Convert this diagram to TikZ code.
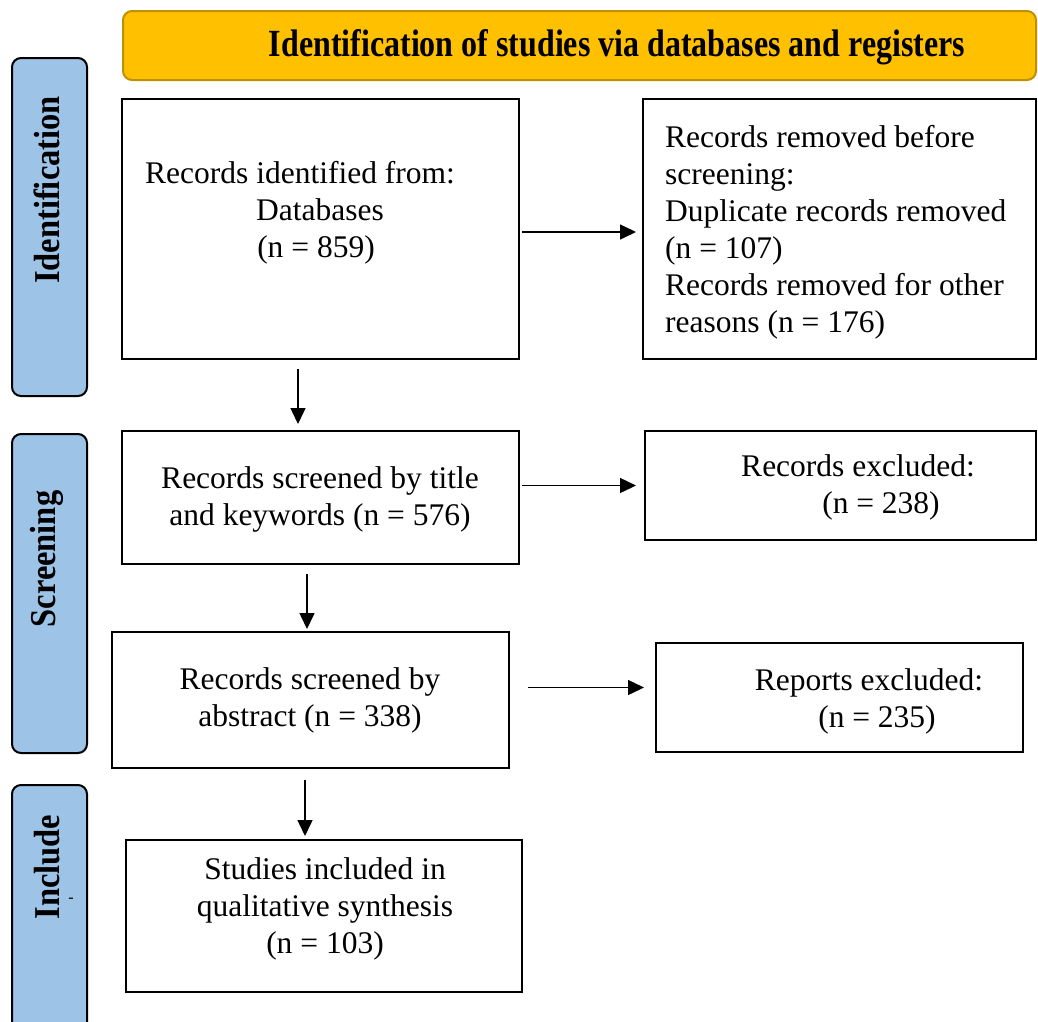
\documentclass[tikz,border=0pt]{standalone}
\usepackage{fontspec}
\setmainfont{Liberation Serif}
\usetikzlibrary{arrows.meta}
\definecolor{hdrfill}{HTML}{FFC000}
\definecolor{hdrline}{HTML}{BF9000}
\definecolor{phasefill}{HTML}{9DC3E6}

\begin{document}
\begin{tikzpicture}[%
        x = 1pt, y = -1pt,
        box/.style = {draw, line width=2pt, inner sep=0pt},
        phase/.style = {draw, line width=2pt, rounded corners=9pt, fill=phasefill},
        phasetxt/.style = {inner sep=0pt, rotate=90, font=\fontsize{32.5}{37}\selectfont\bfseries},
        txt/.style = {inner sep=0pt, font=\fontsize{31.5}{37}\selectfont},
        arr/.style = {line width=1.5pt, -{Triangle[length=16pt,width=15pt]}}
    ]
      \useasboundingbox (0,0) rectangle (1038,1021);
      % header and phase bars
      \draw[line width=2pt, rounded corners=9pt, draw=hdrline, fill=hdrfill] (123,11) rectangle (1036,80);
      \node (hdr) at (617,47) {\fontsize{32}{37}\selectfont\bfseries\scalebox{1}[1.2]{Identification of studies via databases and registers}};
      \draw[phase] (12,58) rectangle (87,396);
      \draw[phase] (12,434) rectangle (87,753);
      \draw[phase] (12,785) rectangle (87,1045);
      \node[phasetxt] (p0) at (47,190) {\scalebox{1}[1.12]{Identification}};
      \node[phasetxt] (p1) at (47,559) {\scalebox{1}[1.12]{Screening}};
      \node[phasetxt] (p2) at (47,867) {\scalebox{1}[1.12]{Include}};
      \node[inner sep=0pt] (p2b) at (71,900) {\fontsize{16}{16}\selectfont -};
      % boxes
      \node[box, minimum width=397pt, minimum height=260pt] (b1) at (320.5,229) {};
      \node[box, minimum width=393pt, minimum height=260pt] (b2) at (839.5,229) {};
      \node[box, minimum width=397pt, minimum height=133pt] (b3) at (320.5,497.5) {};
      \node[box, minimum width=391pt, minimum height=109pt] (b4) at (840.5,485.5) {};
      \node[box, minimum width=397pt, minimum height=136pt] (b5) at (310.5,700) {};
      \node[box, minimum width=367pt, minimum height=109pt] (b6) at (839.5,697.5) {};
      \node[box, minimum width=396pt, minimum height=152pt] (b7) at (324,916) {};
      % texts
      \node[txt, align=center] (t1) at (300,213) {Records identified from:\\ \hspace*{40pt}Databases\\ \hspace*{32pt}(n = 859)};
      \node[txt, align=left, anchor=west] (t2) at (665,232) {Records removed before\\ screening:\\ Duplicate records removed\\ (n = 107)\\ Records removed for other\\ reasons (n = 176)};
      \node[txt, align=center] (t3) at (320,499.5) {Records screened by title\\ and keywords (n = 576)};
      \node[txt, align=center] (t4) at (858,487.5) {Records excluded:\\ \hspace*{46pt}(n = 238)};
      \node[txt, align=center] (t5) at (310,700.5) {Records screened by\\ abstract (n = 338)};
      \node[txt, align=center] (t6) at (869,701) {Reports excluded:\\ \hspace*{16pt}(n = 235)};
      \node[txt, align=center] (t7) at (325,909) {Studies included in\\ qualitative synthesis\\ (n = 103)};
      % arrows
      \draw[arr, shorten <=2pt, shorten >=6pt] ([yshift=-3pt]b1.east) -- ([yshift=-3pt]b2.west);
      \draw[arr, shorten <=2pt, shorten >=8pt] (b3.east |- b4.west) -- (b4.west);
      \draw[arr, shorten <=18pt, shorten >=11pt] ([yshift=10pt]b5.east |- b6.west) -- ([yshift=10pt]b6.west);
      \draw[arr, shorten <=9pt, shorten >=6pt] ([xshift=-22.5pt]b1.south) -- ([xshift=-22.5pt]b1.south |- b3.north);
      \draw[arr, shorten <=9pt, shorten >=2pt] ([xshift=-13.5pt]b3.south) -- ([xshift=-13.5pt]b3.south |- b5.north);
      \draw[arr, shorten <=11pt, shorten >=3pt] ([xshift=-5.5pt]b5.south) -- ([xshift=-5.5pt]b5.south |- b7.north);
    \end{tikzpicture}
\end{document}
